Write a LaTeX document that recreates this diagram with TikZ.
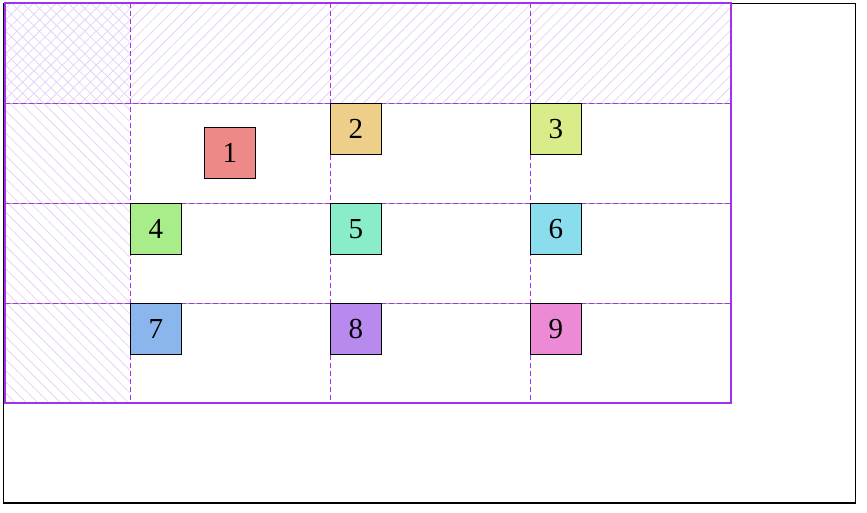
\documentclass[tikz,border=0pt]{standalone}
\usepackage{fontspec}
\setmainfont{Liberation Serif}
\usetikzlibrary{patterns.meta}
\definecolor{gridline}{HTML}{A033F0}
\definecolor{hatch}{HTML}{E6D2FA}
\definecolor{c1}{HTML}{ED8A88}
\definecolor{c2}{HTML}{EDCF8A}
\definecolor{c3}{HTML}{D8ED8A}
\definecolor{c4}{HTML}{A9ED8A}
\definecolor{c5}{HTML}{8AEDC9}
\definecolor{c6}{HTML}{8ADDED}
\definecolor{c7}{HTML}{8AB6ED}
\definecolor{c8}{HTML}{B98AED}
\definecolor{c9}{HTML}{ED8AD5}
\begin{document}
\begin{tikzpicture}[x=1pt,y=-1pt,
		cell/.style={draw=black,line width=0.9pt,anchor=north west,minimum size=51pt,inner sep=0pt,font=\fontsize{29}{30}\selectfont},
		slash/.style={pattern={Lines[angle=45,distance=8pt,line width=0.8pt]},pattern color=hatch},
		backslash/.style={pattern={Lines[angle=-45,distance=8pt,line width=0.8pt]},pattern color=hatch}]
			\useasboundingbox (0,0) rectangle (867,512);
			\draw[line width=1.1pt] (3.5,3.5) rectangle (855.5,503);
			\path (5,3) coordinate (gridtl);
			\path (731,403) coordinate (gridbr);
			\fill[slash] (gridtl) rectangle (731,103);
			\fill[backslash] (5,3) rectangle (130,403);
			\foreach \y in {103,203,303}
				\draw[gray!70,line width=0.6pt,dash pattern=on 3pt off 5pt,dash phase=-5pt] (5,\y) -- (731,\y);
			\foreach \y in {103,203,303}
				\draw[gridline,line width=0.8pt,dash pattern=on 5pt off 3pt] (5,\y) -- (731,\y);
			\foreach \x in {130,330,530}
				\draw[gridline,line width=0.8pt,dash pattern=on 5pt off 3pt] (\x,3) -- (\x,403);
			\draw[gridline,line width=1.4pt] (gridtl) rectangle (gridbr);
			\node[cell,fill=c1] (one) at (204,127) {1};
			\node[cell,fill=c2] (two) at (330,103) {2};
			\node[cell,fill=c3] (three) at (530,103) {3};
			\node[cell,fill=c4] (four) at (130,203) {4};
			\node[cell,fill=c5] (five) at (330,203) {5};
			\node[cell,fill=c6] (six) at (530,203) {6};
			\node[cell,fill=c7] (seven) at (130,303) {7};
			\node[cell,fill=c8] (eight) at (330,303) {8};
			\node[cell,fill=c9] (nine) at (530,303) {9};
		\end{tikzpicture}
\end{document}
